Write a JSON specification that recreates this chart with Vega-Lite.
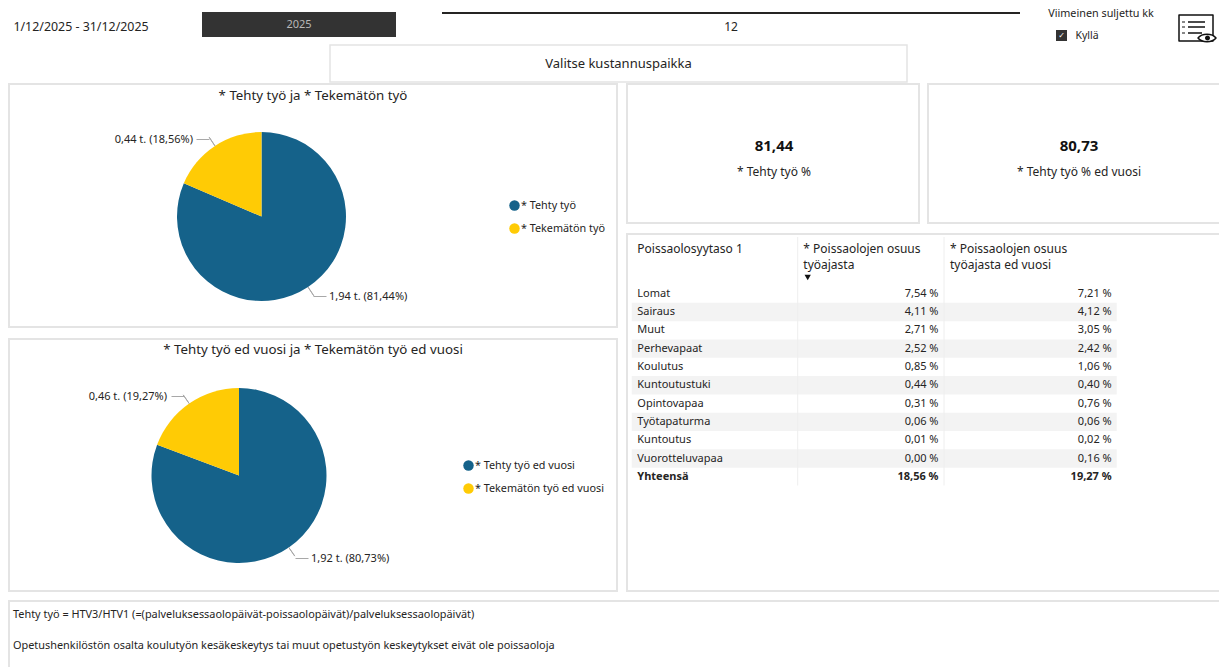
{"$schema":"https://vega.github.io/schema/vega-lite/v6.json","padding":0,"background":"#ffffff","config":{"font":"Noto Sans","view":{"stroke":null},"concat":{"spacing":0},"text":{"font":"Noto Sans","fontSize":11.5,"color":"#252423"},"title":{"font":"Noto Sans","fontWeight":"normal","color":"#252423"},"legend":{"labelFont":"Noto Sans","labelColor":"#252423"}},
"datasets":{
"pie1":[{"sarja":"* Tehty työ","osuus":81.44,"tunnus":"1,94 t. (81,44%)","keski":40.72,"jarj":1},{"sarja":"* Tekemätön työ","osuus":18.56,"tunnus":"0,44 t. (18,56%)","keski":90.72,"jarj":2}],
"pie2":[{"sarja":"* Tehty työ ed vuosi","osuus":80.73,"tunnus":"1,92 t. (80,73%)","keski":40.365,"jarj":1},{"sarja":"* Tekemätön työ ed vuosi","osuus":19.27,"tunnus":"0,46 t. (19,27%)","keski":90.365,"jarj":2}],
"taulu":[{"rivi":"Lomat","nyt":"7,54 %","ed":"7,21 %"},{"rivi":"Sairaus","nyt":"4,11 %","ed":"4,12 %"},{"rivi":"Muut","nyt":"2,71 %","ed":"3,05 %"},{"rivi":"Perhevapaat","nyt":"2,52 %","ed":"2,42 %"},{"rivi":"Koulutus","nyt":"0,85 %","ed":"1,06 %"},{"rivi":"Kuntoutustuki","nyt":"0,44 %","ed":"0,40 %"},{"rivi":"Opintovapaa","nyt":"0,31 %","ed":"0,76 %"},{"rivi":"Työtapaturma","nyt":"0,06 %","ed":"0,06 %"},{"rivi":"Kuntoutus","nyt":"0,01 %","ed":"0,02 %"},{"rivi":"Vuorotteluvapaa","nyt":"0,00 %","ed":"0,16 %"},{"rivi":"Yhteensä","nyt":"18,56 %","ed":"19,27 %"}]
},
"vconcat":[
{"hconcat":[
 {"width":162,"height":44,"data":{"values":[{"t":"1/12/2025 - 31/12/2025"}]},"mark":{"type":"text","dy":5,"fontSize":12.4},"encoding":{"text":{"field":"t"}}},
 {"width":40,"height":44,"data":{"values":[]},"mark":"point"},
 {"vconcat":[
  {"width":194,"height":12,"data":{"values":[]},"mark":"point"},
  {"width":194,"height":25,"view":{"fill":"#333333"},"data":{"values":[{"t":"2025"}]},"mark":{"type":"text","color":"#b8b8b8","fontSize":11},"encoding":{"text":{"field":"t"}}},
  {"width":194,"height":7,"data":{"values":[]},"mark":"point"}
 ]},
 {"width":46,"height":44,"data":{"values":[]},"mark":"point"},
 {"vconcat":[
  {"width":578,"height":12,"data":{"values":[]},"mark":"point"},
  {"width":578,"height":2,"view":{"fill":"#252423"},"data":{"values":[]},"mark":"point"},
  {"width":578,"height":24,"data":{"values":[{"t":"12"}]},"mark":{"type":"text","fontSize":12,"dy":0.5},"encoding":{"text":{"field":"t"}}},
  {"width":578,"height":6,"data":{"values":[]},"mark":"point"}
 ]},
 {"width":26,"height":44,"data":{"values":[]},"mark":"point"},
 {"vconcat":[
  {"width":110,"height":28,"data":{"values":[{"t":"Viimeinen suljettu kk"}]},"mark":{"type":"text","fontSize":10.8},"encoding":{"text":{"field":"t"}}},
  {"hconcat":[
   {"width":10,"height":16,"data":{"values":[]},"mark":"point"},
   {"vconcat":[
    {"width":11,"height":2,"data":{"values":[]},"mark":"point"},
    {"width":11,"height":11,"view":{"fill":"#333333"},"data":{"values":[{"t":"✓"}]},"mark":{"type":"text","color":"#ffffff","fontSize":8,"font":"DejaVu Sans"},"encoding":{"text":{"field":"t"}}},
    {"width":11,"height":3,"data":{"values":[]},"mark":"point"}
   ]},
   {"width":7,"height":16,"data":{"values":[]},"mark":"point"},
   {"width":26,"height":16,"data":{"values":[{"t":"Kyllä"}]},"mark":{"type":"text","fontSize":10.5},"encoding":{"text":{"field":"t"}}},
   {"width":56,"height":16,"data":{"values":[]},"mark":"point"}
  ]}
 ]},
 {"width":19,"height":44,"data":{"values":[]},"mark":"point"},
 {"width":44,"height":44,"data":{"values":[{}]},"layer":[
  {"mark":{"type":"point","shape":"M-18 -7H16V19H-18Z M-9 0H8 M-9 5H8 M-9 11H5","size":4,"stroke":"#111111","strokeWidth":1.5,"strokeJoin":"round","filled":false,"opacity":1}},
  {"mark":{"type":"point","shape":"M-15 0H-12 M-15 5H-12 M-15 11H-12","size":4,"stroke":"#888888","strokeWidth":2,"strokeJoin":"round","filled":false,"opacity":1}},
  {"mark":{"type":"point","shape":"M1 16C5 11 15 11 19 16C15 21 5 21 1 16Z","size":4,"stroke":"#111111","strokeWidth":1.5,"strokeJoin":"round","fill":"#ffffff","opacity":1}},
  {"mark":{"type":"point","shape":"M8 16a2.5 2.5 0 1 0 5 0a2.5 2.5 0 1 0 -5 0Z","size":4,"fill":"#111111","stroke":null,"opacity":1}}
 ]}
]},
{"hconcat":[
 {"width":329,"height":39,"data":{"values":[]},"mark":"point"},
 {"width":579,"height":39,"layer":[
  {"data":{"values":[{}]},"mark":{"type":"rect","fill":"transparent","stroke":"#e4e4e4","strokeWidth":1.5,"clip":true},"encoding":{"x":{"datum":"k","type":"nominal","axis":null,"scale":{"type":"band","domain":["k"],"range":[1,578],"paddingInner":0,"paddingOuter":0}},"y":{"datum":"k","type":"nominal","axis":null,"scale":{"type":"band","domain":["k"],"range":[1,38],"paddingInner":0,"paddingOuter":0}}}},
  {"data":{"values":[{"t":"Valitse kustannuspaikka"}]},"mark":{"type":"text","fontSize":13},"encoding":{"text":{"field":"t"}}}
 ]},
 {"width":311,"height":39,"data":{"values":[]},"mark":"point"}
]},
{"hconcat":[
 {"width":8,"height":509,"data":{"values":[]},"mark":"point"},
 {"resolve":{"scale":{"color":"independent"},"legend":{"color":"independent"}},"vconcat":[
  {"width":610,"height":245,"title":{"text":"* Tehty työ ja * Tekemätön työ","fontSize":13.3,"offset":-19,"anchor":"middle"},"data":{"name":"pie1"},"resolve":{"scale":{"x":"independent","y":"independent"}},"layer":[
   {"data":{"values":[{}]},"mark":{"type":"rect","fill":"transparent","stroke":"#e4e4e4","strokeWidth":2,"clip":true},"encoding":{"x":{"datum":"k","type":"nominal","axis":null,"scale":{"type":"band","domain":["k"],"range":[1,609],"paddingInner":0,"paddingOuter":0}},"y":{"datum":"k","type":"nominal","axis":null,"scale":{"type":"band","domain":["k"],"range":[1,244],"paddingInner":0,"paddingOuter":0}}}},
   {"mark":{"type":"arc","outerRadius":84.5},"encoding":{"x":{"datum":"keskus","type":"nominal","axis":null,"scale":{"type":"point","domain":["keskus"],"range":[253.5,253.5]}},"y":{"datum":"keskus","type":"nominal","axis":null,"scale":{"type":"point","domain":["keskus"],"range":[133.5,133.5]}},"theta":{"field":"osuus","type":"quantitative","scale":{"domain":[0,100]}},"order":{"field":"jarj"},"color":{"field":"sarja","type":"nominal","sort":null,"scale":{"domain":["* Tehty työ","* Tekemätön työ"],"range":["#15628A","#FFCB05"]},"legend":{"orient":"none","legendX":501,"legendY":117,"title":null,"symbolType":"circle","symbolSize":110,"symbolStrokeWidth":0,"labelFontSize":10.8,"labelOffset":1,"rowPadding":11}}}},
   {"mark":{"type":"arc","stroke":"#a8a8a8","strokeWidth":1,"fillOpacity":0},"encoding":{"x":{"datum":"keskus","type":"nominal","axis":null,"scale":{"type":"point","domain":["keskus"],"range":[253.5,253.5]}},"y":{"datum":"keskus","type":"nominal","axis":null,"scale":{"type":"point","domain":["keskus"],"range":[133.5,133.5]}},"theta":{"field":"keski","type":"quantitative","stack":null,"scale":{"domain":[0,100]}},"theta2":{"field":"keski"},"radius":{"value":95},"radius2":{"value":84.5}}},
   {"mark":{"type":"tick","orient":"horizontal","size":13,"thickness":1,"color":"#a8a8a8","opacity":1},"encoding":{"x":{"field":"jarj","type":"nominal","axis":null,"scale":{"type":"point","padding":0,"domain":[1,2],"range":[312,195]}},"y":{"field":"jarj","type":"nominal","axis":null,"scale":{"type":"point","padding":0,"domain":[1,2],"range":[213.5,56.5]}}}},
   {"transform":[{"filter":"datum.jarj==2"}],"mark":{"type":"text","align":"right","fontSize":11},"encoding":{"text":{"field":"tunnus"},"x":{"field":"jarj","type":"nominal","axis":null,"scale":{"type":"point","padding":0,"domain":[1,2],"range":[321,185]}},"y":{"field":"jarj","type":"nominal","axis":null,"scale":{"type":"point","padding":0,"domain":[1,2],"range":[214,57]}}}},
   {"transform":[{"filter":"datum.jarj==1"}],"mark":{"type":"text","align":"left","fontSize":11},"encoding":{"text":{"field":"tunnus"},"x":{"field":"jarj","type":"nominal","axis":null,"scale":{"type":"point","padding":0,"domain":[1,2],"range":[321,185]}},"y":{"field":"jarj","type":"nominal","axis":null,"scale":{"type":"point","padding":0,"domain":[1,2],"range":[214,57]}}}}
  ]},
  {"width":610,"height":10,"data":{"values":[]},"mark":"point"},
  {"width":610,"height":254,"title":{"text":"* Tehty työ ed vuosi ja * Tekemätön työ ed vuosi","fontSize":13.3,"offset":-18,"anchor":"middle"},"data":{"name":"pie2"},"resolve":{"scale":{"x":"independent","y":"independent"}},"layer":[
   {"data":{"values":[{}]},"mark":{"type":"rect","fill":"transparent","stroke":"#e4e4e4","strokeWidth":2,"clip":true},"encoding":{"x":{"datum":"k","type":"nominal","axis":null,"scale":{"type":"band","domain":["k"],"range":[1,609],"paddingInner":0,"paddingOuter":0}},"y":{"datum":"k","type":"nominal","axis":null,"scale":{"type":"band","domain":["k"],"range":[1,253],"paddingInner":0,"paddingOuter":0}}}},
   {"mark":{"type":"arc","outerRadius":87.5},"encoding":{"x":{"datum":"keskus","type":"nominal","axis":null,"scale":{"type":"point","domain":["keskus"],"range":[231,231]}},"y":{"datum":"keskus","type":"nominal","axis":null,"scale":{"type":"point","domain":["keskus"],"range":[137.5,137.5]}},"theta":{"field":"osuus","type":"quantitative","scale":{"domain":[0,100]}},"order":{"field":"jarj"},"color":{"field":"sarja","type":"nominal","sort":null,"scale":{"domain":["* Tehty työ ed vuosi","* Tekemätön työ ed vuosi"],"range":["#15628A","#FFCB05"]},"legend":{"orient":"none","legendX":455,"legendY":122,"title":null,"symbolType":"circle","symbolSize":110,"symbolStrokeWidth":0,"labelFontSize":10.8,"labelOffset":1,"rowPadding":11}}}},
   {"mark":{"type":"arc","stroke":"#a8a8a8","strokeWidth":1,"fillOpacity":0},"encoding":{"x":{"datum":"keskus","type":"nominal","axis":null,"scale":{"type":"point","domain":["keskus"],"range":[231,231]}},"y":{"datum":"keskus","type":"nominal","axis":null,"scale":{"type":"point","domain":["keskus"],"range":[137.5,137.5]}},"theta":{"field":"keski","type":"quantitative","stack":null,"scale":{"domain":[0,100]}},"theta2":{"field":"keski"},"radius":{"value":98},"radius2":{"value":87.5}}},
   {"mark":{"type":"tick","orient":"horizontal","size":13,"thickness":1,"color":"#a8a8a8","opacity":1},"encoding":{"x":{"field":"jarj","type":"nominal","axis":null,"scale":{"type":"point","padding":0,"domain":[1,2],"range":[294,170]}},"y":{"field":"jarj","type":"nominal","axis":null,"scale":{"type":"point","padding":0,"domain":[1,2],"range":[220.5,58.5]}}}},
   {"transform":[{"filter":"datum.jarj==2"}],"mark":{"type":"text","align":"right","fontSize":11},"encoding":{"text":{"field":"tunnus"},"x":{"field":"jarj","type":"nominal","axis":null,"scale":{"type":"point","padding":0,"domain":[1,2],"range":[303,159]}},"y":{"field":"jarj","type":"nominal","axis":null,"scale":{"type":"point","padding":0,"domain":[1,2],"range":[221,59]}}}},
   {"transform":[{"filter":"datum.jarj==1"}],"mark":{"type":"text","align":"left","fontSize":11},"encoding":{"text":{"field":"tunnus"},"x":{"field":"jarj","type":"nominal","axis":null,"scale":{"type":"point","padding":0,"domain":[1,2],"range":[303,159]}},"y":{"field":"jarj","type":"nominal","axis":null,"scale":{"type":"point","padding":0,"domain":[1,2],"range":[221,59]}}}}
  ]}
 ]},
 {"width":8,"height":509,"data":{"values":[]},"mark":"point"},
 {"vconcat":[
  {"hconcat":[
   {"width":294,"height":141,"resolve":{"scale":{"y":"independent"}},"data":{"values":[{"rooli":"arvo","t":"81,44"},{"rooli":"nimi","t":"* Tehty työ %"}]},"layer":[
    {"data":{"values":[{}]},"mark":{"type":"rect","fill":"transparent","stroke":"#e4e4e4","strokeWidth":2,"clip":true},"encoding":{"x":{"datum":"k","type":"nominal","axis":null,"scale":{"type":"band","domain":["k"],"range":[1,293],"paddingInner":0,"paddingOuter":0}},"y":{"datum":"k","type":"nominal","axis":null,"scale":{"type":"band","domain":["k"],"range":[1,140],"paddingInner":0,"paddingOuter":0}}}},
    {"transform":[{"filter":"datum.rooli=='arvo'"}],"mark":{"type":"text","fontSize":15,"fontWeight":"bold","color":"#111111","dx":1},"encoding":{"text":{"field":"t"},"y":{"field":"rooli","type":"nominal","axis":null,"scale":{"type":"point","padding":0,"domain":["arvo","nimi"],"range":[63,89]}}}},
    {"transform":[{"filter":"datum.rooli=='nimi'"}],"mark":{"type":"text","fontSize":12,"dx":1},"encoding":{"text":{"field":"t"},"y":{"field":"rooli","type":"nominal","axis":null,"scale":{"type":"point","padding":0,"domain":["arvo","nimi"],"range":[63,89]}}}}
   ]},
   {"width":7,"height":141,"data":{"values":[]},"mark":"point"},
   {"width":292,"height":141,"resolve":{"scale":{"y":"independent"}},"data":{"values":[{"rooli":"arvo","t":"80,73"},{"rooli":"nimi","t":"* Tehty työ % ed vuosi"}]},"layer":[
    {"data":{"values":[{}]},"mark":{"type":"rect","fill":"transparent","stroke":"#e4e4e4","strokeWidth":2,"clip":true},"encoding":{"x":{"datum":"k","type":"nominal","axis":null,"scale":{"type":"band","domain":["k"],"range":[1,300],"paddingInner":0,"paddingOuter":0}},"y":{"datum":"k","type":"nominal","axis":null,"scale":{"type":"band","domain":["k"],"range":[1,140],"paddingInner":0,"paddingOuter":0}}}},
    {"transform":[{"filter":"datum.rooli=='arvo'"}],"mark":{"type":"text","fontSize":15,"fontWeight":"bold","color":"#111111","dx":6},"encoding":{"text":{"field":"t"},"y":{"field":"rooli","type":"nominal","axis":null,"scale":{"type":"point","padding":0,"domain":["arvo","nimi"],"range":[63,89]}}}},
    {"transform":[{"filter":"datum.rooli=='nimi'"}],"mark":{"type":"text","fontSize":12,"dx":6},"encoding":{"text":{"field":"t"},"y":{"field":"rooli","type":"nominal","axis":null,"scale":{"type":"point","padding":0,"domain":["arvo","nimi"],"range":[63,89]}}}}
   ]}
  ]},
  {"width":593,"height":9,"data":{"values":[]},"mark":"point"},
  {"width":593,"height":359,"resolve":{"scale":{"x":"independent","y":"independent"}},"data":{"name":"taulu"},"layer":[
   {"data":{"values":[{}]},"mark":{"type":"rect","fill":"transparent","stroke":"#e4e4e4","strokeWidth":2,"clip":true},"encoding":{"x":{"datum":"k","type":"nominal","axis":null,"scale":{"type":"band","domain":["k"],"range":[1,601],"paddingInner":0,"paddingOuter":0}},"y":{"datum":"k","type":"nominal","axis":null,"scale":{"type":"band","domain":["k"],"range":[1,358],"paddingInner":0,"paddingOuter":0}}}},
   {"transform":[{"filter":{"field":"rivi","oneOf":["Sairaus","Perhevapaat","Kuntoutustuki","Työtapaturma","Vuorotteluvapaa"]}}],"mark":{"type":"rect","color":"#f3f3f3"},"encoding":{"x":{"datum":"raita","type":"nominal","axis":null,"scale":{"type":"band","domain":["raita"],"range":[5.7,490.7],"paddingInner":0,"paddingOuter":0}},"y":{"field":"rivi","type":"nominal","axis":null,"scale":{"type":"band","domain":["Lomat","Sairaus","Muut","Perhevapaat","Koulutus","Kuntoutustuki","Opintovapaa","Työtapaturma","Kuntoutus","Vuorotteluvapaa","Yhteensä"],"range":[51.5,253],"paddingInner":0,"paddingOuter":0}}}},
   {"data":{"values":[{"sarake":"nyt"},{"sarake":"ed"}]},"mark":{"type":"rule","color":"#eeeeee","strokeWidth":1},"encoding":{"x":{"field":"sarake","type":"nominal","axis":null,"scale":{"type":"point","padding":0,"domain":["nyt","ed"],"range":[171.7,318]}},"y":{"datum":0,"type":"quantitative","axis":null,"scale":{"domain":[0,1],"range":[252.5,4]}},"y2":{"datum":1}}},
   {"data":{"values":[{"t":["Poissaolosyytaso 1"]}]},"mark":{"type":"text","align":"left","baseline":"top","fontSize":12},"encoding":{"text":{"field":"t"},"x":{"datum":"s","type":"nominal","axis":null,"scale":{"type":"point","domain":["s"],"range":[11.3,11.3]}},"y":{"datum":"o","type":"nominal","axis":null,"scale":{"type":"point","domain":["o"],"range":[10.5,10.5]}}}},
   {"data":{"values":[{"t":["* Poissaolojen osuus","työajasta"]}]},"mark":{"type":"text","align":"left","baseline":"top","fontSize":12,"lineHeight":16},"encoding":{"text":{"field":"t"},"x":{"datum":"s","type":"nominal","axis":null,"scale":{"type":"point","domain":["s"],"range":[177.3,177.3]}},"y":{"datum":"o","type":"nominal","axis":null,"scale":{"type":"point","domain":["o"],"range":[10.5,10.5]}}}},
   {"data":{"values":[{"t":["* Poissaolojen osuus","työajasta ed vuosi"]}]},"mark":{"type":"text","align":"left","baseline":"top","fontSize":12,"lineHeight":16},"encoding":{"text":{"field":"t"},"x":{"datum":"s","type":"nominal","axis":null,"scale":{"type":"point","domain":["s"],"range":[324,324]}},"y":{"datum":"o","type":"nominal","axis":null,"scale":{"type":"point","domain":["o"],"range":[10.5,10.5]}}}},
   {"data":{"values":[{"lajittelu":"laskeva"}]},"mark":{"type":"point","shape":"triangle-down","size":40,"filled":true,"color":"#111111","opacity":1},"encoding":{"x":{"field":"lajittelu","type":"nominal","axis":null,"scale":{"type":"point","domain":["laskeva"],"range":[181.7,181.7]}},"y":{"field":"lajittelu","type":"nominal","axis":null,"scale":{"type":"point","domain":["laskeva"],"range":[44.5,44.5]}}}},
   {"encoding":{"y":{"field":"rivi","type":"nominal","axis":null,"scale":{"type":"band","domain":["Lomat","Sairaus","Muut","Perhevapaat","Koulutus","Kuntoutustuki","Opintovapaa","Työtapaturma","Kuntoutus","Vuorotteluvapaa","Yhteensä"],"range":[51.5,253],"paddingInner":0,"paddingOuter":0}}},"resolve":{"scale":{"x":"independent"}},"layer":[
    {"transform":[{"filter":"datum.rivi!='Yhteensä'"}],"mark":{"type":"text","align":"left","fontSize":11},"encoding":{"text":{"field":"rivi"},"x":{"datum":"s","type":"nominal","axis":null,"scale":{"type":"point","domain":["s"],"range":[11.3,11.3]}}}},
    {"transform":[{"filter":"datum.rivi!='Yhteensä'"}],"mark":{"type":"text","align":"right","fontSize":11},"encoding":{"text":{"field":"nyt"},"x":{"datum":"s","type":"nominal","axis":null,"scale":{"type":"point","domain":["s"],"range":[312.5,312.5]}}}},
    {"transform":[{"filter":"datum.rivi!='Yhteensä'"}],"mark":{"type":"text","align":"right","fontSize":11},"encoding":{"text":{"field":"ed"},"x":{"datum":"s","type":"nominal","axis":null,"scale":{"type":"point","domain":["s"],"range":[485.7,485.7]}}}},
    {"transform":[{"filter":"datum.rivi=='Yhteensä'"}],"mark":{"type":"text","align":"left","fontSize":11,"fontWeight":"bold"},"encoding":{"text":{"field":"rivi"},"x":{"datum":"s","type":"nominal","axis":null,"scale":{"type":"point","domain":["s"],"range":[11.3,11.3]}}}},
    {"transform":[{"filter":"datum.rivi=='Yhteensä'"}],"mark":{"type":"text","align":"right","fontSize":11,"fontWeight":"bold"},"encoding":{"text":{"field":"nyt"},"x":{"datum":"s","type":"nominal","axis":null,"scale":{"type":"point","domain":["s"],"range":[312.5,312.5]}}}},
    {"transform":[{"filter":"datum.rivi=='Yhteensä'"}],"mark":{"type":"text","align":"right","fontSize":11,"fontWeight":"bold"},"encoding":{"text":{"field":"ed"},"x":{"datum":"s","type":"nominal","axis":null,"scale":{"type":"point","domain":["s"],"range":[485.7,485.7]}}}}
   ]}
  ]}
 ]}
]},
{"width":1219,"height":8,"data":{"values":[]},"mark":"point"},
{"hconcat":[
 {"width":8,"height":67,"data":{"values":[]},"mark":"point"},
 {"width":1211,"height":67,"resolve":{"scale":{"x":"independent","y":"independent"}},"layer":[
  {"data":{"values":[{}]},"mark":{"type":"rect","fill":"transparent","stroke":"#e4e4e4","strokeWidth":2,"clip":true},"encoding":{"x":{"datum":"k","type":"nominal","axis":null,"scale":{"type":"band","domain":["k"],"range":[1,1220],"paddingInner":0,"paddingOuter":0}},"y":{"datum":"k","type":"nominal","axis":null,"scale":{"type":"band","domain":["k"],"range":[1,80],"paddingInner":0,"paddingOuter":0}}}},
  {"data":{"values":[{"rivi":"a","t":"Tehty työ = HTV3/HTV1 (=(palveluksessaolopäivät-poissaolopäivät)/palveluksessaolopäivät)"},{"rivi":"b","t":"Opetushenkilöstön osalta koulutyön kesäkeskeytys tai muut opetustyön keskeytykset eivät ole poissaoloja"}]},"mark":{"type":"text","align":"left","fontSize":10.9},"encoding":{"text":{"field":"t"},"x":{"datum":"s","type":"nominal","axis":null,"scale":{"type":"point","domain":["s"],"range":[5,5]}},"y":{"field":"rivi","type":"nominal","axis":null,"scale":{"type":"point","padding":0,"domain":["a","b"],"range":[15,46]}}}}
 ]}
]}
]}
